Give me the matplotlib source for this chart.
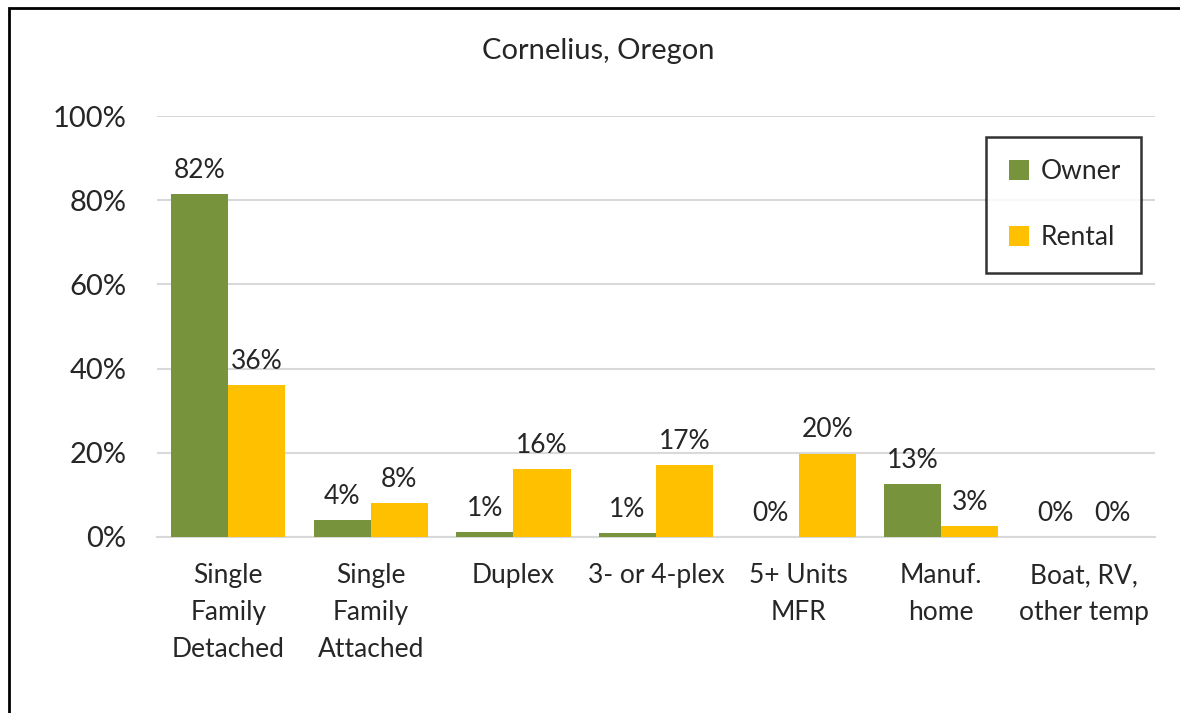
import matplotlib.pyplot as plt
import matplotlib.patches as patches
import numpy as np

plt.rcParams['font.family'] = ['Lato', 'DejaVu Sans']

categories = ['Single\nFamily\nDetached', 'Single\nFamily\nAttached', 'Duplex',
              '3- or 4-plex', '5+ Units\nMFR', 'Manuf.\nhome', 'Boat, RV,\nother temp']
owner = [81.6, 3.9, 1.2, 0.9, 0.0, 12.6, 0.0]
rental = [36.1, 8.1, 16.2, 17.1, 19.8, 2.6, 0.0]

green = '#77933C'
gold = '#FFC000'
grid_col = '#D9D9D9'
txt = '#262626'

fig = plt.figure(figsize=(11.8, 7.13), dpi=100)
ax = fig.add_axes([0.133, 0.247, 0.846, 0.590])

x = np.arange(len(categories))
w = 0.4
b1 = ax.bar(x - w / 2, owner, w, color=green, label='Owner', zorder=3)
b2 = ax.bar(x + w / 2, rental, w, color=gold, label='Rental', zorder=3)

for bars, vals in ((b1, owner), (b2, rental)):
    for r, v in zip(bars, vals):
        ax.annotate('%d%%' % round(v), (r.get_x() + r.get_width() / 2, v),
                    xytext=(0, 8), textcoords='offset points',
                    ha='center', va='bottom', fontsize=19, color=txt)

ax.set_ylim(0, 100)
ax.set_xlim(-0.5, len(categories) - 0.5)
ax.set_yticks([0, 20, 40, 60, 80, 100])
ax.set_yticklabels(['0%', '20%', '40%', '60%', '80%', '100%'], fontsize=21, color=txt)
ax.set_xticks(x)
ax.set_xticklabels(categories, fontsize=19, color=txt, linespacing=1.6, va='top')
ax.tick_params(axis='both', length=0)
ax.tick_params(axis='y', pad=22)
ax.tick_params(axis='x', pad=19)
ax.yaxis.grid(True, color=grid_col, linewidth=1.5, zorder=0)
ax.set_axisbelow(True)
for s in ['top', 'right', 'left']:
    ax.spines[s].set_visible(False)
ax.spines['bottom'].set_color(grid_col)
ax.spines['bottom'].set_linewidth(1.5)

fig.text(0.507, 0.928, 'Cornelius, Oregon', ha='center', va='center', fontsize=21, color=txt)

leg = fig.legend(loc='upper left', bbox_to_anchor=(0.836, 0.624, 0.131, 0.184),
                 mode='expand', fontsize=19, frameon=True, fancybox=False,
                 handlelength=0.75, handleheight=0.75, handletextpad=0.45,
                 labelspacing=1.55, borderpad=0.85, borderaxespad=0)
leg.get_frame().set_edgecolor('black')
leg.get_frame().set_linewidth(1.8)
for t in leg.get_texts():
    t.set_color(txt)

frame = patches.Rectangle((0.008, -0.05), 1.1, 1.039, transform=fig.transFigure,
                          fill=False, edgecolor='black', linewidth=2)
fig.patches.append(frame)

fig.savefig('out.png', dpi=100)
